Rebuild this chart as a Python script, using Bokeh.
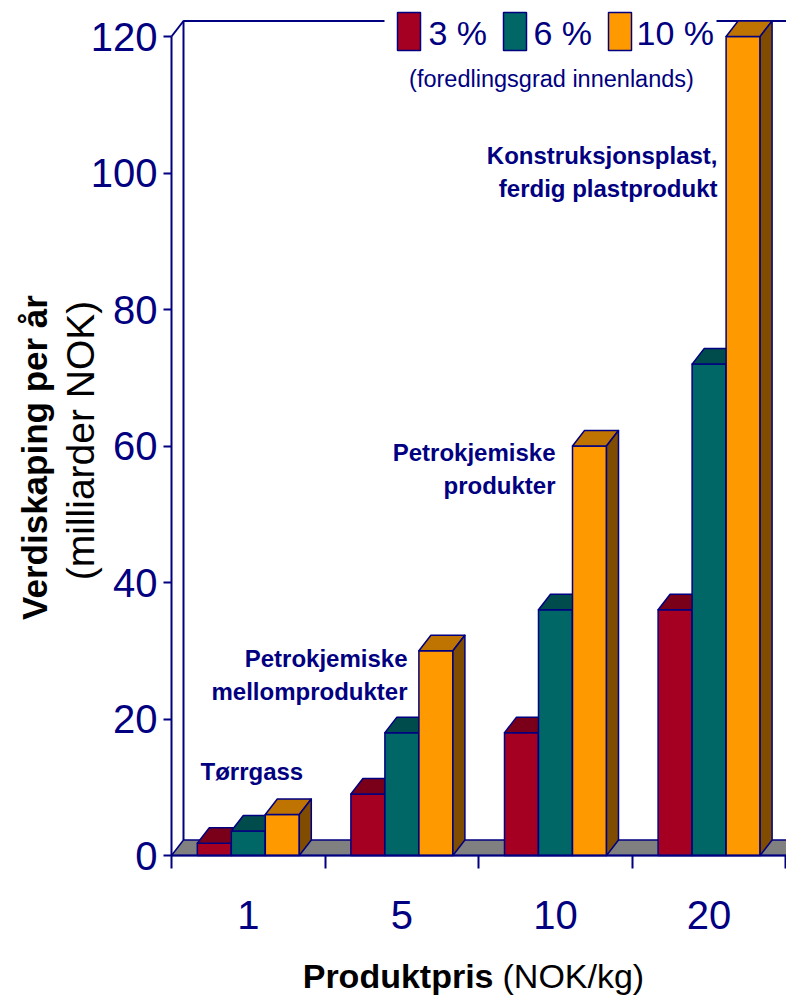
import math
from bokeh.plotting import figure
from bokeh.models import Range1d, FixedTicker, Label
from bokeh.embed import file_html
from bokeh.resources import INLINE

# ---------------- data ----------------
categories = ["1", "5", "10", "20"]          # Produktpris (NOK/kg)
series = ["3 %", "6 %", "10 %"]              # foredlingsgrad innenlands
vals_3 = [1.8, 9, 18, 36]
vals_6 = [3.6, 18, 36, 72]
vals_10 = [6, 30, 60, 120]
y_ticks = [0, 20, 40, 60, 80, 100, 120]
group_notes = [["Tørrgass"],
               ["Petrokjemiske", "mellomprodukter"],
               ["Petrokjemiske", "produkter"],
               ["Konstruksjonsplast,", "ferdig plastprodukt"]]

# ---------------- style ----------------
NAVY = "#000080"
FRONT = ["#A50021", "#006666", "#FF9900"]
TOP = ["#7A0019", "#004C4C", "#BF7300"]
SIDE = ["#520010", "#003333", "#7F4C00"]
FLOOR = "#808080"
FONT = "Liberation Sans"

W, H = 786, 1000
X0PX, Y0PX = 171, 855      # pixel position of the (0, 0) corner
PX_X = 153.6               # px per category
PX_Y = 6.825               # px per value unit

def xd(px):
    return (px - X0PX) / PX_X

def yd(py):
    return (Y0PX - py) / PX_Y

BW = 34 / PX_X    # bar width
DX = 12 / PX_X    # depth offset (x)
DY = 15.5 / PX_Y  # depth offset (y)
XEND = xd(W)

p = figure(width=W, height=H, output_backend="svg", toolbar_location=None,
           x_range=Range1d(xd(0), xd(W)), y_range=Range1d(yd(H), yd(0)),
           min_border_left=0, min_border_bottom=0, min_border_top=0,
           min_border_right=0, outline_line_color=None)
p.xgrid.visible = False
p.ygrid.visible = False

# floor
p.patch([0, XEND + 1, XEND + 1 + DX, DX], [0, 0, DY, DY], fill_color=FLOOR,
        line_color=NAVY, line_width=1.5)
# back wall edges
p.line([DX, DX, XEND + 1], [DY, 120 + DY, 120 + DY], line_color=NAVY, line_width=2)
p.line([0, DX], [120, 120 + DY], line_color=NAVY, line_width=2)

# legend
p.quad(left=[xd(384)], right=[xd(716)], top=[yd(0)], bottom=[yd(58)],
       fill_color="white", line_color=None)
sw_left = [397, 503, 608]
txt_left = [428, 533, 636]
for j, name in enumerate(series):
    p.quad(left=[xd(sw_left[j])], right=[xd(sw_left[j] + 23)], top=[yd(12)],
           bottom=[yd(50)], fill_color=FRONT[j], line_color=NAVY, line_width=1.5)
    p.add_layout(Label(x=xd(txt_left[j]), y=yd(32), text=name, text_font=FONT,
                       text_font_size="34px", text_color=NAVY,
                       text_align="left", text_baseline="middle"))
p.add_layout(Label(x=xd(551), y=yd(78), text="(foredlingsgrad innenlands)",
                   text_font=FONT, text_font_size="23.5px", text_color=NAVY,
                   text_align="center", text_baseline="middle"))

# bars
xs, ys, fc = [], [], []
allv = [vals_3, vals_6, vals_10]
for i in range(len(categories)):
    for j in range(len(series)):
        v = allv[j][i]
        x0 = i + 0.5 + (j - 1.5) * BW
        x1 = x0 + BW
        xs.append([x0, x1, x1, x0]); ys.append([0, 0, v, v]); fc.append(FRONT[j])
        xs.append([x0, x1, x1 + DX, x0 + DX]); ys.append([v, v, v + DY, v + DY]); fc.append(TOP[j])
        xs.append([x1, x1 + DX, x1 + DX, x1]); ys.append([0, DY, v + DY, v]); fc.append(SIDE[j])
p.patches(xs, ys, fill_color=fc, line_color=NAVY, line_width=1.5, line_join="round")

# group notes
note_pos = [(200, [771], "left"), (407, [658, 691], "right"),
            (555, [452, 485], "right"), (717, [155, 188], "right")]
for lines, (px, pys, al) in zip(group_notes, note_pos):
    for t, py in zip(lines, pys):
        p.add_layout(Label(x=xd(px), y=yd(py), text=t, text_font=FONT,
                           text_font_style="bold", text_font_size="24px",
                           text_color=NAVY, text_align=al, text_baseline="middle"))

# axes (drawn at the data origin)
ya = p.yaxis[0]
ya.fixed_location = 0
ya.ticker = FixedTicker(ticks=y_ticks)
ya.bounds = (0, 120)
ya.axis_line_color = NAVY
ya.axis_line_width = 2
ya.major_tick_line_color = NAVY
ya.major_tick_line_width = 2
ya.major_tick_out = 8
ya.major_tick_in = 0
ya.minor_tick_line_color = None
ya.major_label_standoff = 6
ya.major_label_text_font = FONT
ya.major_label_text_font_size = "40px"
ya.major_label_text_color = NAVY

xa = p.xaxis[0]
xa.fixed_location = 0
centers = [i + 0.5 for i in range(len(categories))]
xa.ticker = FixedTicker(ticks=centers, minor_ticks=list(range(len(categories) + 1)))
xa.major_label_overrides = {c: lab for c, lab in zip(centers, categories)}
xa.bounds = (0, XEND)
xa.axis_line_color = NAVY
xa.axis_line_width = 2
xa.major_tick_line_color = None
xa.major_tick_out = 0
xa.major_tick_in = 0
xa.minor_tick_line_color = NAVY
xa.minor_tick_line_width = 2
xa.minor_tick_out = 13
xa.minor_tick_in = 0
xa.major_label_standoff = 32
xa.major_label_text_font = FONT
xa.major_label_text_font_size = "40px"
xa.major_label_text_color = NAVY

# axis titles
p.add_layout(Label(x=xd(34), y=yd(457), text="Verdiskaping per år", angle=math.pi / 2,
                   text_font=FONT, text_font_style="bold", text_font_size="35px",
                   text_color="black", text_align="center", text_baseline="middle"))
p.add_layout(Label(x=xd(80), y=yd(440), text="(milliarder NOK)", angle=math.pi / 2,
                   text_font=FONT, text_font_size="39px",
                   text_color="black", text_align="center", text_baseline="middle"))
p.add_layout(Label(x=xd(493), y=yd(975), text="Produktpris",
                   text_font=FONT, text_font_style="bold", text_font_size="34px",
                   text_color="black", text_align="right", text_baseline="middle"))
p.add_layout(Label(x=xd(502), y=yd(975), text="(NOK/kg)",
                   text_font=FONT, text_font_size="34px",
                   text_color="black", text_align="left", text_baseline="middle"))

open("out.html", "w").write(file_html(p, INLINE))
